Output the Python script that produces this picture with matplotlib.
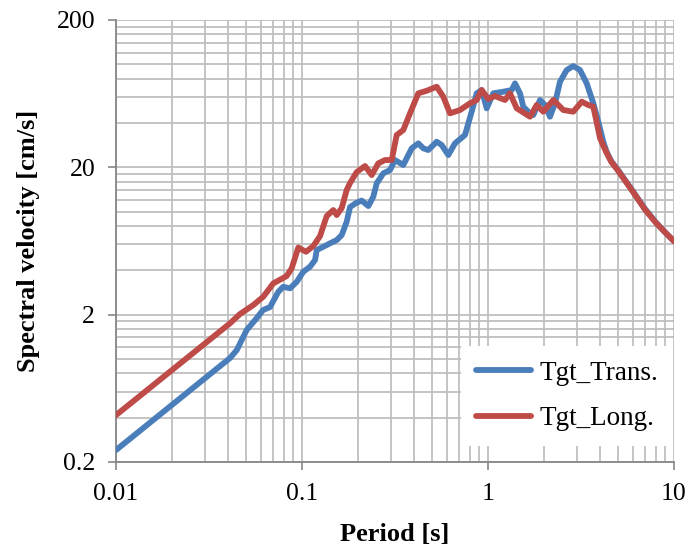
import numpy as np
import matplotlib
matplotlib.use('Agg')
import matplotlib.pyplot as plt
from matplotlib.ticker import FixedLocator, NullFormatter

plt.rcParams['font.family'] = ['Liberation Serif', 'DejaVu Serif']

# 数据
period_trans = [0.01, 0.041, 0.0446, 0.0504, 0.0571, 0.0617, 0.0673, 0.0746, 0.0793, 0.0862,
                0.0937, 0.1016, 0.1104, 0.1175, 0.12, 0.1302, 0.1414, 0.1537, 0.1635, 0.1739,
                0.1812, 0.1951, 0.2094, 0.2273, 0.2417, 0.2521, 0.2736, 0.2972, 0.3162, 0.3504,
                0.389, 0.422, 0.4489, 0.4775, 0.53, 0.5637, 0.6117, 0.6645, 0.752, 0.8171,
                0.8694, 0.925, 0.984, 1.068, 1.209, 1.341, 1.397, 1.486, 1.548, 1.647,
                1.752, 1.904, 2.025, 2.154, 2.292, 2.438, 2.65, 2.874, 3.124, 3.394,
                3.683, 3.918, 4.168, 4.347, 4.6, 5.0, 6.0, 7.0, 8.0, 9.0, 10.0]
sv_trans = [0.241, 1.015, 1.15, 1.572, 1.896, 2.148, 2.252, 2.861, 3.093, 3.016,
            3.344, 3.91, 4.229, 4.695, 5.49, 5.781, 6.095, 6.418, 6.94, 8.55,
            10.75, 11.44, 11.9, 10.92, 12.63, 15.57, 18.21, 19.17, 22.42, 20.73,
            26.92, 29.1, 26.92, 26.2, 29.85, 28.34, 24.24, 29.1, 33.14, 47.7,
            63.6, 66.95, 50.3, 63.6, 65.2, 66.95, 74.3, 63.6, 51.6, 47.7,
            45.3, 57.3, 52.96, 44.1, 54.4, 76.2, 91.5, 97.4, 91.5, 74.3,
            54.4, 40.8, 29.8, 25.4, 22.0, 19.2, 13.8, 10.4, 8.45, 7.2, 6.3]

period_long = [0.01, 0.041, 0.0464, 0.0547, 0.0619, 0.0701, 0.0827, 0.088, 0.0955, 0.1051,
               0.115, 0.125, 0.1358, 0.1473, 0.1537, 0.1635, 0.1739, 0.1812, 0.1969, 0.2182,
               0.237, 0.2572, 0.2794, 0.3036, 0.3229, 0.3504, 0.3808, 0.422, 0.4682, 0.53,
               0.5749, 0.6247, 0.707, 0.8, 0.8694, 0.925, 1.004, 1.09, 1.234, 1.313,
               1.427, 1.682, 1.827, 1.983, 2.245, 2.54, 2.874, 3.19, 3.461, 3.683,
               3.918, 4.0, 4.168, 4.347, 4.6, 5.0, 6.0, 7.0, 8.0, 9.0, 10.0]
sv_long = [0.416, 1.746, 2.019, 2.324, 2.646, 3.262, 3.656, 4.124, 5.707, 5.346,
           5.843, 6.833, 9.34, 10.26, 9.49, 10.59, 14.03, 15.65, 18.58, 20.41,
           17.73, 21.29, 22.42, 22.42, 33.14, 35.84, 46.5, 63.6, 66.2, 70.5,
           60.3, 46.5, 48.98, 54.4, 57.3, 66.95, 58.2, 60.95, 57.3, 63.6,
           50.3, 44.1, 52.96, 47.7, 57.3, 48.98, 47.7, 55.8, 52.96, 51.6,
           35.84, 31.6, 28.0, 25.0, 21.8, 19.0, 13.7, 10.3, 8.4, 7.2, 6.3]

x_ticks = [0.01, 0.1, 1, 10]
x_ticklabels = ['0.01', '0.1', '1', '10']
y_ticks = [0.2, 2, 20, 200]
y_ticklabels = ['0.2', '2', '20', '200']

# 画图
fig = plt.figure(figsize=(6.9, 5.52), dpi=100)
ax = fig.add_axes([116 / 690, 1 - 462 / 552, 558 / 690, 442 / 552])

ax.plot(period_trans, sv_trans, color='#4A7EBB', lw=4.2, label='Tgt_Trans.',
        solid_capstyle='round', solid_joinstyle='round', zorder=3)
ax.plot(period_long, sv_long, color='#BE4B48', lw=4.2, label='Tgt_Long.',
        solid_capstyle='round', solid_joinstyle='round', zorder=4)

ax.set_xscale('log')
ax.set_yscale('log')
ax.set_xlim(0.01, 10)
ax.set_ylim(0.2, 200)

# 刻度
ax.xaxis.set_major_locator(FixedLocator(x_ticks))
ax.set_xticklabels(x_ticklabels)
x_minor = [d * k for d in [0.01, 0.1, 1] for k in range(2, 10)]
ax.xaxis.set_minor_locator(FixedLocator(x_minor))
ax.yaxis.set_major_locator(FixedLocator(y_ticks))
ax.set_yticklabels(y_ticklabels)
y_minor = [d * k for d in [0.2, 2, 20] for k in range(2, 10)]
ax.yaxis.set_minor_locator(FixedLocator(y_minor))
ax.xaxis.set_minor_formatter(NullFormatter())
ax.yaxis.set_minor_formatter(NullFormatter())

ax.tick_params(which='major', direction='out', length=6, width=1.2, color='#868686',
               labelsize=18.5, pad=9)
ax.tick_params(which='minor', length=0)

ax.grid(True, which='both', color='#BFBFBF', lw=1.3, zorder=0)
ax.set_axisbelow(True)

for side in ['left', 'bottom']:
    ax.spines[side].set_color('#868686')
    ax.spines[side].set_linewidth(1.3)
for side in ['top', 'right']:
    ax.spines[side].set_visible(False)

ax.set_xlabel('Period [s]', fontsize=19, fontweight='bold')
ax.set_ylabel('Spectral velocity [cm/s]', fontsize=19, fontweight='bold')
ax.xaxis.label.set_va('center')
ax.yaxis.label.set_va('center')
ax.xaxis.set_label_coords(0.499, -0.165)
ax.yaxis.set_label_coords(-0.157, 0.5)

leg = ax.legend(loc='lower right', bbox_to_anchor=(0.998, 0.036), fontsize=19.5,
                frameon=True, fancybox=False, handlelength=2.05, handletextpad=0.3,
                labelspacing=0.75, borderpad=0.55, borderaxespad=0)
leg.get_frame().set_facecolor('white')
leg.get_frame().set_edgecolor('none')
leg.get_frame().set_alpha(1)
for line in leg.get_lines():
    line.set_linewidth(4.2)

fig.savefig('out.png', dpi=100)
